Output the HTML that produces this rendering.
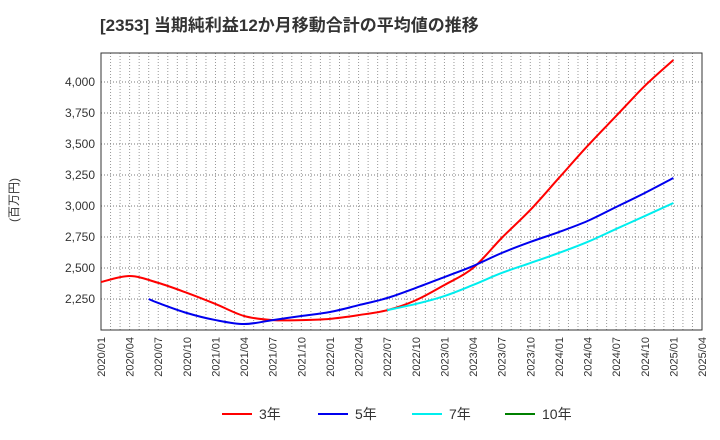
<!DOCTYPE html>
<html><head><meta charset="utf-8"><style>
body{margin:0;background:#fff;}
svg{display:block;font-family:"Liberation Sans","Noto Sans CJK JP",sans-serif;}
</style></head><body>
<svg id="chart" width="720" height="440">
<text x="100" y="31" font-size="17" font-weight="bold" fill="#333">[2353]  当期純利益12か月移動合計の平均値の推移</text>
<text transform="translate(18,200) rotate(-90)" text-anchor="middle" font-size="12" fill="#333">(百万円)</text>
<g id="grid"></g><g id="axes"></g><g id="series"></g><g id="legend"></g>
</svg>
<script>
const xLabels=["2020/01","2020/04","2020/07","2020/10","2021/01","2021/04","2021/07","2021/10","2022/01","2022/04","2022/07","2022/10","2023/01","2023/04","2023/07","2023/10","2024/01","2024/04","2024/07","2024/10","2025/01","2025/04"];
const yTicks=[2250,2500,2750,3000,3250,3500,3750,4000];
const months3=[0,3,6,9,12,15,18,21,24,27,30,33,36,39,42,45,48,51,54,57,60];
const vals3=[2387,2435,2380,2300,2210,2113,2080,2080,2090,2120,2160,2240,2363,2500,2742,2968,3226,3484,3726,3968,4177];
const months5=[5,6,9,12,15,18,21,24,27,30,33,36,39,42,45,48,51,54,57,60];
const vals5=[2250,2218,2137,2080,2048,2080,2113,2145,2200,2258,2339,2427,2516,2621,2710,2790,2879,2992,3105,3226];
const months7=[30,33,36,39,42,45,48,51,54,57,60];
const vals7=[2160,2210,2274,2363,2460,2540,2621,2710,2815,2919,3024];
const months10=[];const vals10=[];
const L=101,R=702,T=53,B=330,NM=63,YMIN=2000,YMAX=4000+29/31*250;
const xs=m=>L+(R-L)*m/NM, ys=v=>B-(B-T)*(v-YMIN)/(YMAX-YMIN);
const NS="http://www.w3.org/2000/svg";
function mk(t,a,p){const e=document.createElementNS(NS,t);for(const k in a)e.setAttribute(k,a[k]);p.appendChild(e);return e;}
const grid=document.getElementById('grid'),axes=document.getElementById('axes'),ser=document.getElementById('series'),leg=document.getElementById('legend');
for(let m=1;m<NM;m++){const l=mk('line',{x1:xs(m),x2:xs(m),y1:T,y2:B,stroke:'#999','stroke-width':1,'stroke-dasharray':'1,2'},grid);

}
yTicks.forEach(v=>{const l=mk('line',{x1:L,x2:R,y1:ys(v),y2:ys(v),stroke:'#777','stroke-width':1,'stroke-dasharray':'1,2'},grid);


const t=mk('text',{x:L-6,y:ys(v)+4,'text-anchor':'end','font-size':12,fill:'#333'},axes);t.textContent=v.toLocaleString('en-US');

});
xLabels.forEach((s,i)=>{const x=xs(i*3);const t=mk('text',{transform:`translate(${x+4},${B+7}) rotate(-90)`,'text-anchor':'end','font-size':11,fill:'#333'},axes);t.textContent=s;

});
const frame=mk('rect',{x:L,y:T,width:R-L,height:B-T,fill:'none',stroke:'#333','stroke-width':1},axes);


function path(ms,vs){const p=ms.map((m,i)=>[xs(m),ys(vs[i])]);if(!p.length)return '';let d=`M${p[0][0]},${p[0][1]}`;
for(let i=0;i<p.length-1;i++){const p0=p[i-1]||p[i],p1=p[i],p2=p[i+1],p3=p[i+2]||p2;
d+=` C${p1[0]+(p2[0]-p0[0])/6},${p1[1]+(p2[1]-p0[1])/6} ${p2[0]-(p3[0]-p1[0])/6},${p2[1]-(p3[1]-p1[1])/6} ${p2[0]},${p2[1]}`;}return d;}
const S=[["3年",months3,vals3,"#ff0000"],["5年",months5,vals5,"#0000ee"],["7年",months7,vals7,"#00eeee"],["10年",months10,vals10,"#008000"]];
S.forEach((s,i)=>{const e=mk('path',{d:path(s[1],s[2]),fill:'none',stroke:s[3],'stroke-width':2},ser);


const lx=[222,318,412,505][i];
const g=mk('g',{},leg);


mk('line',{x1:lx,x2:lx+30,y1:414,y2:414,stroke:s[3],'stroke-width':2},g);
const t=mk('text',{x:lx+37,y:419,'font-size':14,fill:'#333'},g);t.textContent=s[0];});
</script>
</body></html>
